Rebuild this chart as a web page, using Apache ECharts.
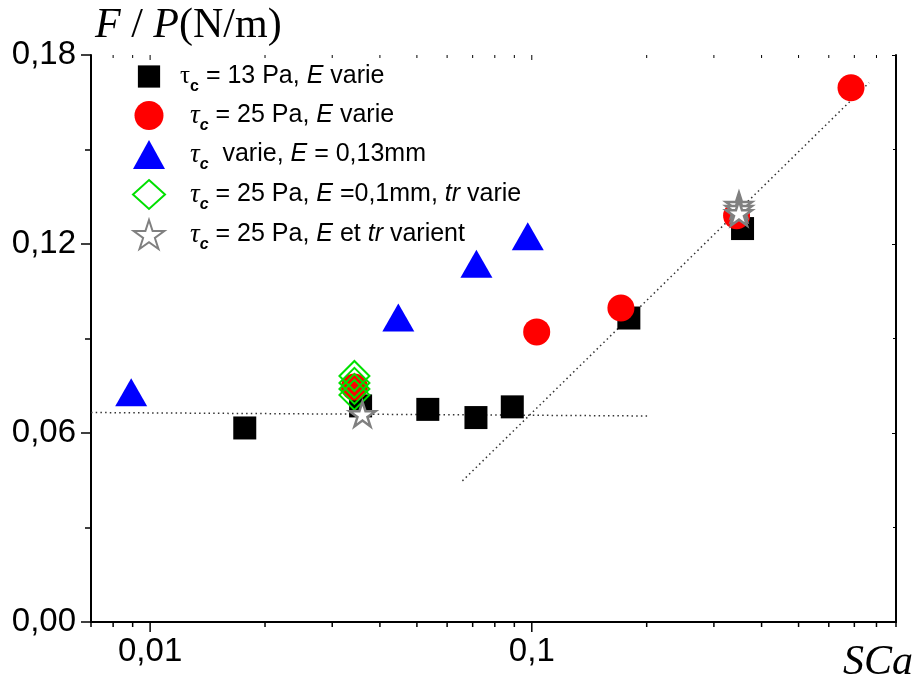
<!DOCTYPE html>
<html>
<head>
<meta charset="utf-8">
<script src="https://cdn.jsdelivr.net/npm/echarts@6/dist/echarts.min.js"></script>
<style>html,body{margin:0;padding:0;background:#fff}#c{width:918px;height:681px}</style>
</head>
<body>
<div id="c"></div>
<script>
// ---- data ----
var sqX = [0.0177, 0.0356, 0.0534, 0.0714, 0.0889, 0.1796, 0.3566];
var sqY = [0.0616, 0.0686, 0.0675, 0.0649, 0.0683, 0.0965, 0.1249];
var circX = [0.0343, 0.103, 0.1712, 0.344, 0.686];
var circY = [0.0746, 0.0921, 0.0997, 0.129, 0.1696];
var triX = [0.00892, 0.0447, 0.0716, 0.0976];
var triY = [0.0729, 0.0967, 0.1137, 0.1225];
var diaX = [0.0343, 0.0343, 0.0343, 0.0343];
var diaY = [0.0781, 0.0759, 0.0740, 0.0721];
var starX = [0.036, 0.349, 0.349, 0.349];
var starY = [0.066, 0.1324, 0.1311, 0.1298];
var hLineX = [0.007, 0.202];
var hLineY = [0.0665, 0.0654];
var sLineX = [0.0658, 0.765];
var sLineY = [0.0448, 0.1712];
var seriesNames = ['s13', 's25', 'svar', 'str', 'sstar'];
var xMajorTicks = [0.01, 0.1];
var xMinorTicks = [0.007, 0.008, 0.009, 0.02, 0.03, 0.04, 0.05, 0.06, 0.07, 0.08, 0.09,
                   0.2, 0.3, 0.4, 0.5, 0.6, 0.7, 0.8, 0.9];
var xLabels = {'0.01': '0,01', '0.1': '0,1'};
var xMin = 0.007, xMax = 0.9, yMin = 0, yMax = 0.18, yStep = 0.06;

function pts(xs, ys) { return xs.map(function (x, i) { return [x, ys[i]]; }); }

var legendText = {
  s13: '{pa| }{tu|τ}{sub|c}{n| = 13 Pa, }{i|E}{n| varie}',
  s25: '{pb| }{t|τ}{subi|c}{n| = 25 Pa, }{i|E}{n| varie}',
  svar: '{pb| }{t|τ}{subi|c}{n|  varie, }{i|E}{n| = 0,13mm}',
  str: '{pb| }{t|τ}{subi|c}{n| = 25 Pa, }{i|E}{n| =0,1mm, }{i|tr}{n| varie}',
  sstar: '{pb| }{t|τ}{subi|c}{n| = 25 Pa, }{i|E}{n| et }{i|tr}{n| varient}'
};

var starPath = 'path://M50,2 L61.2,36.3 L97.6,36.3 L68.2,57.7 L79.4,92 L50,70.8 L20.6,92 L31.8,57.7 L2.4,36.3 L38.8,36.3 Z';
var squareIcon = 'path://M0,0 M32,30 M4.5,3.5 L27.5,3.5 L27.5,26.5 L4.5,26.5 Z';

var tickData = xMajorTicks.map(function (v) { return [v, 1]; })
  .concat(xMinorTicks.map(function (v) { return [v, 0]; }));

var chart = echarts.init(document.getElementById('c'), null, {renderer: 'canvas'});
var sans = 'Liberation Sans, Arial, sans-serif';
var serif = 'Liberation Serif, Times New Roman, serif';

var option = {
  backgroundColor: '#fff',
  animation: false,
  grid: {left: 91, right: 22, top: 55, bottom: 59, outerBoundsMode: 'none'},
  legend: {
    orient: 'vertical', left: 132, top: 62, padding: 0,
    itemWidth: 32, itemHeight: 29, itemGap: 6.5, selectedMode: false,
    data: [{name: 's13', icon: squareIcon}, 's25', 'svar', 'str', 'sstar'],
    formatter: function (n) { return legendText[n]; },
    textStyle: {
      color: '#000', fontFamily: sans, fontSize: 25,
      rich: {
        pa: {width: 10, fontSize: 25, lineHeight: 36},
        pb: {width: 20, fontSize: 25, lineHeight: 36},
        n: {fontFamily: sans, fontSize: 25, lineHeight: 36, color: '#000'},
        i: {fontFamily: sans, fontSize: 25, fontStyle: 'italic', lineHeight: 36, color: '#000'},
        tu: {fontFamily: serif, fontSize: 25, lineHeight: 36, color: '#000'},
        t: {fontFamily: serif, fontSize: 27, fontStyle: 'italic', lineHeight: 36, color: '#000'},
        sub: {fontFamily: sans, fontSize: 16, fontWeight: 'bold', lineHeight: 15, verticalAlign: 'bottom', color: '#000'},
        subi: {fontFamily: sans, fontSize: 16, fontWeight: 'bold', fontStyle: 'italic', lineHeight: 15, verticalAlign: 'bottom', color: '#000'}
      }
    }
  },
  xAxis: [{
    type: 'log', logBase: 10, min: xMin, max: xMax, position: 'bottom',
    axisLine: {show: true, lineStyle: {color: '#000', width: 2}},
    axisTick: {show: false},
    splitLine: {show: false},
    axisLabel: {
      color: '#000', fontFamily: sans, fontSize: 33, margin: 13,
      showMinLabel: true, showMaxLabel: true,
      formatter: function (v) {
        for (var k in xLabels) { if (Math.abs(v - parseFloat(k)) < 1e-9) return xLabels[k]; }
        return '';
      }
    },
    name: 'SCa', nameLocation: 'end', nameGap: 17,
    nameTextStyle: {fontFamily: serif, fontStyle: 'italic', fontSize: 42, color: '#000',
      align: 'right', verticalAlign: 'top', padding: [20, 0, 0, 0]}
  }, {
    type: 'log', logBase: 10, min: xMin, max: xMax, position: 'top',
    axisLine: {show: true, lineStyle: {color: '#000', width: 2}},
    axisTick: {show: false}, axisLabel: {show: false}, splitLine: {show: false}
  }],
  yAxis: [{
    type: 'value', min: yMin, max: yMax, interval: yStep, position: 'left',
    axisLine: {show: true, lineStyle: {color: '#000', width: 2}},
    axisTick: {show: true, inside: false, length: 10, lineStyle: {color: '#000', width: 1.5}},
    minorTick: {show: true, splitNumber: 2, length: 6, lineStyle: {color: '#000', width: 1.5}},
    splitLine: {show: false}, minorSplitLine: {show: false},
    axisLabel: {color: '#000', fontFamily: sans, fontSize: 33, margin: 15,
      formatter: function (v) { return v.toFixed(2).replace('.', ','); }},
    name: '{i|F}{n| / }{i|P}{n|(N/m)}', nameLocation: 'end', nameGap: 29,
    nameTextStyle: {align: 'left', verticalAlign: 'middle', padding: [0, 0, 0, 4],
      rich: {
        i: {fontFamily: serif, fontStyle: 'italic', fontSize: 42, color: '#000'},
        n: {fontFamily: serif, fontSize: 42, color: '#000'}
      }}
  }, {
    type: 'value', min: yMin, max: yMax, interval: yStep, position: 'right',
    axisLine: {show: true, lineStyle: {color: '#000', width: 2}},
    axisTick: {show: true, inside: true, length: 4, lineStyle: {color: '#000', width: 1}},
    minorTick: {show: true, splitNumber: 2, length: 3, lineStyle: {color: '#000', width: 1}},
    splitLine: {show: false}, minorSplitLine: {show: false}, axisLabel: {show: false}
  }],
  series: [
    {type: 'line', name: 'fitH', data: pts(hLineX, hLineY), showSymbol: false, symbol: 'none',
     lineStyle: {color: '#333', width: 1.5, type: [1.5, 3.2]}, silent: true, z: 1},
    {type: 'line', name: 'fitS', data: pts(sLineX, sLineY), showSymbol: false, symbol: 'none',
     lineStyle: {color: '#333', width: 1.5, type: [1.5, 3.2]}, silent: true, z: 1},
    {type: 'custom', name: 'ticks', coordinateSystem: 'cartesian2d', data: tickData, silent: true,
     clip: false, z: 5,
     renderItem: function (params, api) {
       var v = api.value(0), major = api.value(1) === 1;
       var pb = api.coord([v, yMin]), pt = api.coord([v, yMax]);
       return {type: 'group', children: [
         {type: 'line', shape: {x1: pb[0], y1: pb[1], x2: pb[0], y2: pb[1] + (major ? 10 : 5)},
          style: {stroke: '#000', lineWidth: 1.5}},
         {type: 'line', shape: {x1: pt[0], y1: pt[1], x2: pt[0], y2: pt[1] + (major ? 5 : 3)},
          style: {stroke: '#000', lineWidth: 1}}
       ]};
     }},
    {type: 'scatter', name: 's13', data: pts(sqX, sqY), symbol: 'rect', symbolSize: 23,
     itemStyle: {color: '#000', opacity: 1}, z: 2},
    {type: 'scatter', name: 's25', data: pts(circX, circY), symbol: 'circle', symbolSize: 27,
     itemStyle: {color: '#ff0000', opacity: 1}, z: 3},
    {type: 'scatter', name: 'svar', data: pts(triX, triY), symbol: 'triangle', symbolSize: [32, 28],
     itemStyle: {color: '#0000ff', opacity: 1}, z: 4},
    {type: 'scatter', name: 'str', data: pts(diaX, diaY), symbol: 'diamond', symbolSize: 30,
     itemStyle: {color: 'rgba(0,0,0,0)', borderColor: '#00e000', borderWidth: 2, opacity: 1}, z: 5},
    {type: 'scatter', name: 'sstar', data: pts(starX, starY), symbol: starPath, symbolSize: 26,
     symbolKeepAspect: true,
     itemStyle: {color: '#ffffff', borderColor: '#808080', borderWidth: 2.5, opacity: 1}, z: 6}
  ]
};
chart.setOption(option);
</script>
</body>
</html>
